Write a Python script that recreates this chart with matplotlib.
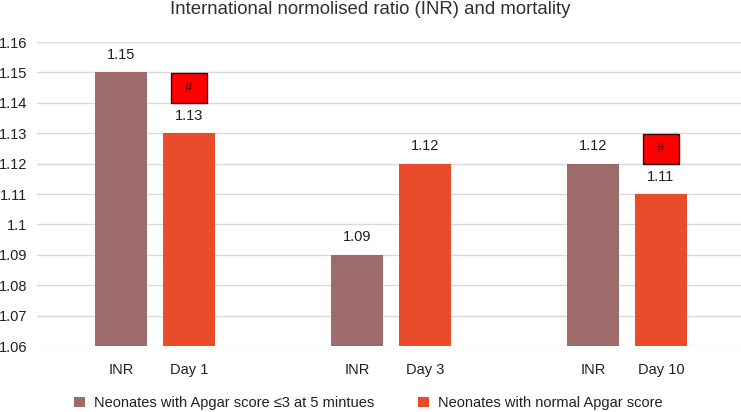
import matplotlib
matplotlib.use("Agg")
import matplotlib.pyplot as plt
from matplotlib.patches import Rectangle, Patch

plt.rcParams['font.family'] = ['Liberation Sans', 'DejaVu Sans']

groups = ["Day 1", "Day 3", "Day 10"]
series_names = ["Neonates with Apgar score \u22643 at 5 mintues", "Neonates with normal Apgar score"]
low_apgar = [1.15, 1.09, 1.12]
normal_apgar = [1.13, 1.12, 1.11]
tick_labels = ["INR", "Day 1", "INR", "Day 3", "INR", "Day 10"]
hash_marks = [True, False, True]  # '#' marker over the normal-Apgar bar

colors = ["#9E6B6B", "#E84C2A"]
offset = 0.144
width = 0.22

fig = plt.figure(figsize=(7.41, 4.12), dpi=100)
ax = fig.add_axes([37/741, 66/412, 704/741, 304/412])

xs0 = [i - offset for i in range(len(groups))]
xs1 = [i + offset for i in range(len(groups))]
ax.bar(xs0, [v - 1.06 for v in low_apgar], bottom=1.06, width=width, color=colors[0], zorder=3)
ax.bar(xs1, [v - 1.06 for v in normal_apgar], bottom=1.06, width=width, color=colors[1], zorder=3)

for x, v in list(zip(xs0, low_apgar)) + list(zip(xs1, normal_apgar)):
    ax.text(x, v + 0.0057, f"{v:g}", ha="center", va="center", fontsize=10.5, color="#202020")

for x, v, h in zip(xs1, normal_apgar, hash_marks):
    if h:
        cy = v + 0.0148
        bw, bh = 0.155, 0.0099
        ax.add_patch(Rectangle((x - bw/2, cy - bh/2), bw, bh, facecolor="#FF0000",
                               edgecolor="#3a0a0a", lw=1, zorder=4))
        ax.text(x, cy, "#", ha="center", va="center", fontsize=9.5, color="#3a0a0a", zorder=5)

ax.set_ylim(1.06, 1.16)
ax.set_xlim(-0.5, 2.483)
yt = [1.06 + 0.01*i for i in range(11)]
ax.set_yticks(yt)
ax.set_yticklabels([f"{round(t, 2):g}" for t in yt], fontsize=10.5, color="#202020")
ax.set_xticks(sorted(xs0 + xs1))
ax.set_xticklabels(tick_labels, fontsize=10.5, color="#202020")
ax.tick_params(axis='x', length=0, pad=12)
ax.tick_params(axis='y', length=0, pad=7)
ax.grid(axis='y', color="#d9d9d9", lw=1, zorder=0)
for s in ax.spines.values():
    s.set_visible(False)
ax.set_axisbelow(True)

fig.text(0.5, 1 - 10/412, "International normolised ratio (INR) and mortality", ha="center",
         va="center", fontsize=13.4, color="#303030")

handles = [Patch(facecolor=colors[0]), Patch(facecolor=colors[1])]
fig.legend(handles, series_names, loc="center", bbox_to_anchor=(0.497, 1 - 403/412), ncol=2,
           frameon=False, fontsize=10.5, handlelength=0.75, handleheight=0.75,
           columnspacing=3.0, handletextpad=0.6, labelcolor="#202020")

fig.savefig("out.png", dpi=100)
